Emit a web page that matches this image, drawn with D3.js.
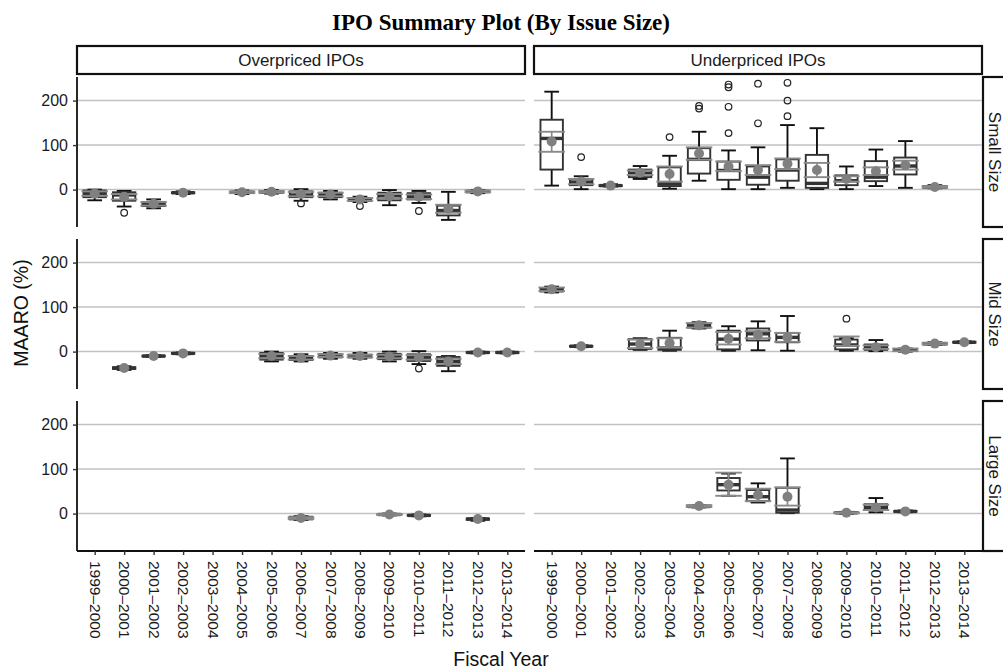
<!DOCTYPE html>
<html>
<head>
<meta charset="utf-8">
<script src="https://cdn.jsdelivr.net/npm/d3@7"></script>
<style>
  html, body { margin: 0; padding: 0; background: #fff; }
  svg { display: block; }
</style>
</head>
<body>
<svg id="chart" width="1003" height="670"></svg>
<script>
// Fiscal-year categories, facet labels and y ticks
const fiscalYears = ["1999–2000","2000–2001","2001–2002","2002–2003","2003–2004",
  "2004–2005","2005–2006","2006–2007","2007–2008","2008–2009","2009–2010",
  "2010–2011","2011–2012","2012–2013","2013–2014"];
const pricingGroups = ["Overpriced IPOs", "Underpriced IPOs"];
const sizeGroups = ["Small Size", "Mid Size", "Large Size"];
const yTicks = [0, 100, 200];

// Per fiscal year: [lowerWhisker, q1, median, q3, upperWhisker, mean, meanLo, meanHi, outliers]
// (meanLo / meanHi are null where the interval is undefined)
const overSmall = [
  [-24,-17,-9,-2,0,-9,-14,-4,[]],
  [-38,-25,-12,-6,-3,-16,-22,-10,[-52]],
  [-42,-37,-32,-28,-22,-32,-36,-28,[]],
  [-10,-8,-7,-6,-4,-7,null,null,[]],
  null,
  [-10,-7,-6,-5,-2,-6,-8,-4,[]],
  [-9,-7,-5,-4,-1,-5,-7,-3,[]],
  [-25,-17,-12,-4,1,-10,-15,-5,[-31]],
  [-22,-17,-12,-7,-3,-11,-15,-7,[]],
  [-28,-25,-22,-19,-16,-22,-25,-19,[-37]],
  [-35,-24,-14,-7,-1,-15,-20,-10,[]],
  [-30,-22,-15,-8,-3,-16,-21,-11,[-48]],
  [-68,-58,-47,-36,-5,-43,-52,-34,[]],
  [-8,-6,-4,-3,-1,-4,-6,-2,[]],
  null
];
const underSmall = [
  [9,45,115,157,220,108,85,130,[]],
  [1,10,17,24,30,18,12,24,[73]],
  [7,8,9,10,12,9,null,null,[]],
  [24,28,37,45,53,38,33,43,[]],
  [2,8,13,50,76,35,18,52,[118]],
  [20,36,68,93,130,81,67,95,[182,188]],
  [1,22,43,63,88,52,42,63,[127,186,230,236]],
  [1,11,28,52,95,44,33,55,[149,238]],
  [4,20,44,68,145,58,46,70,[165,200,240]],
  [1,4,14,78,138,44,28,60,[]],
  [1,10,20,32,52,24,18,30,[]],
  [8,19,28,64,90,41,33,50,[]],
  [4,34,53,72,109,55,45,65,[]],
  [3,4,6,8,10,6,4,8,[]],
  null
];
const overMid = [
  null,
  [-41,-39,-37,-35,-33,-37,null,null,[]],
  [-12,-11,-10,-9,-8,-10,null,null,[]],
  [-6,-5,-4,-3,-2,-4,null,null,[]],
  null,
  null,
  [-22,-18,-10,-3,0,-10,-15,-5,[]],
  [-22,-19,-14,-10,-6,-14,-18,-10,[]],
  [-16,-13,-10,-6,-3,-9,-12,-6,[]],
  [-16,-13,-10,-7,-3,-10,-13,-7,[]],
  [-22,-17,-11,-5,0,-11,-15,-7,[]],
  [-28,-21,-13,-6,1,-13,-18,-8,[-38]],
  [-44,-32,-22,-12,-10,-22,-28,-16,[]],
  [-4,-3,-2,-1,0,-2,null,null,[]],
  [-4,-3,-2,-1,0,-2,null,null,[]]
];
const underMid = [
  [133,135,139,143,146,140,136,144,[]],
  [10,11,12,13,14,12,null,null,[]],
  null,
  [4,6,17,28,30,17,8,27,[]],
  [2,4,8,31,47,19,9,30,[]],
  [52,54,58,63,66,59,54,64,[]],
  [2,5,28,47,57,29,16,44,[]],
  [3,25,40,52,68,38,30,46,[]],
  [2,21,32,42,80,32,22,42,[]],
  null,
  [2,5,15,27,30,23,13,34,[74]],
  [1,4,9,16,26,10,6,14,[]],
  [0,2,4,5,7,4,1,7,[]],
  [15,16,18,19,21,18,16,20,[]],
  [19,20,21,22,23,21,null,null,[]]
];
const overLarge = [
  null, null, null, null, null, null, null,
  [-14,-13,-10,-7,-6,-10,-12,-8,[]],
  null, null,
  [-4,-3,-2,-1,0,-2,-3,-1,[]],
  [-6,-5,-4,-3,-2,-4,null,null,[]],
  null,
  [-16,-14,-12,-11,-10,-12,null,null,[]],
  null
];
const underLarge = [
  null, null, null, null, null,
  [14,15,16,18,19,17,15,19,[]],
  [40,52,65,80,90,65,40,92,[]],
  [25,28,38,53,68,42,28,56,[]],
  [1,2,8,58,124,38,18,59,[]],
  null,
  [0,1,2,3,4,2,1,3,[]],
  [3,8,14,21,35,14,8,20,[]],
  [3,4,5,6,7,5,null,null,[]],
  null,
  null
];

const panelData = [
  [overSmall, underSmall],
  [overMid, underMid],
  [overLarge, underLarge]
];

// ---- layout ----
const svg = d3.select("#chart");
const colX = [[77, 525], [534, 982]];
const rowY = [[77, 227], [239, 389], [401, 551]];
const FONT = "'Liberation Sans', Arial, Helvetica, sans-serif";

const xScales = colX.map(r => d3.scalePoint().domain(fiscalYears).range(r).padding(0.6));
const yScales = rowY.map(r => d3.scaleLinear().domain([-84, 253]).range([r[1], r[0]]));
const step = xScales[0].step();

// title
svg.append("text")
  .attr("x", 501).attr("y", 30)
  .attr("text-anchor", "middle")
  .style("font-family", "'Liberation Serif', 'Times New Roman', serif")
  .style("font-weight", "bold")
  .style("font-size", "23px")
  .text("IPO Summary Plot (By Issue Size)");

// column strips
pricingGroups.forEach((lab, c) => {
  svg.append("rect")
    .attr("x", colX[c][0]).attr("y", 46)
    .attr("width", colX[c][1] - colX[c][0]).attr("height", 28)
    .attr("fill", "#fff").attr("stroke", "#111").attr("stroke-width", 2.2);
  svg.append("text")
    .attr("x", (colX[c][0] + colX[c][1]) / 2).attr("y", 60)
    .attr("dy", "0.35em").attr("text-anchor", "middle")
    .style("font-family", FONT).style("font-size", "17px").style("fill", "#1a1a1a")
    .text(lab);
});

// row strips
sizeGroups.forEach((lab, r) => {
  svg.append("rect")
    .attr("x", 983).attr("y", rowY[r][0])
    .attr("width", 28).attr("height", rowY[r][1] - rowY[r][0])
    .attr("fill", "#fff").attr("stroke", "#111").attr("stroke-width", 2.2);
  const cy = (rowY[r][0] + rowY[r][1]) / 2;
  svg.append("text")
    .attr("transform", `translate(995,${cy}) rotate(90)`)
    .attr("dy", "0.35em").attr("text-anchor", "middle")
    .style("font-family", FONT).style("font-size", "17px").style("fill", "#1a1a1a")
    .text(lab);
});

// panels
sizeGroups.forEach((_, r) => {
  pricingGroups.forEach((_, c) => {
    const x = xScales[c], y = yScales[r];
    const g = svg.append("g");

    // horizontal grid
    g.selectAll("line.grid").data(yTicks).join("line")
      .attr("x1", colX[c][0]).attr("x2", colX[c][1])
      .attr("y1", d => y(d)).attr("y2", d => y(d))
      .attr("stroke", "#c2c2c2").attr("stroke-width", 1.5);

    const rows = panelData[r][c]
      .map((s, i) => s ? { year: fiscalYears[i], s } : null)
      .filter(d => d);

    const boxW = step * 0.76, capW = step * 0.5, ciW = step * 0.9;

    rows.forEach(({ year, s }) => {
      const cx = x(year);
      const [lw, q1, med, q3, uw, mean, lo, hi, out] = s;
      const b = g.append("g");
      // whiskers with caps
      b.append("line").attr("x1", cx).attr("x2", cx).attr("y1", y(lw)).attr("y2", y(uw))
        .attr("stroke", "#111").attr("stroke-width", 1.9);
      [lw, uw].forEach(v => b.append("line")
        .attr("x1", cx - capW / 2).attr("x2", cx + capW / 2)
        .attr("y1", y(v)).attr("y2", y(v))
        .attr("stroke", "#111").attr("stroke-width", 1.9));
      // box
      b.append("rect")
        .attr("x", cx - boxW / 2).attr("width", boxW)
        .attr("y", y(q3)).attr("height", Math.max(0, y(q1) - y(q3)))
        .attr("fill", "#fff").attr("stroke", "#333").attr("stroke-width", 1.9);
      b.append("line")
        .attr("x1", cx - boxW / 2).attr("x2", cx + boxW / 2)
        .attr("y1", y(med)).attr("y2", y(med))
        .attr("stroke", "#333").attr("stroke-width", 3.4);
      // outliers
      out.forEach(v => b.append("circle")
        .attr("cx", cx).attr("cy", y(v)).attr("r", 3.3)
        .attr("fill", "none").attr("stroke", "#222").attr("stroke-width", 1.2));
      // interval around the mean
      if (lo !== null && hi !== null) {
        b.append("line").attr("x1", cx).attr("x2", cx).attr("y1", y(lo)).attr("y2", y(hi))
          .attr("stroke", "#8a8a8a").attr("stroke-width", 1.7);
        [lo, hi].forEach(v => b.append("line")
          .attr("x1", cx - ciW / 2).attr("x2", cx + ciW / 2)
          .attr("y1", y(v)).attr("y2", y(v))
          .attr("stroke", "#8a8a8a").attr("stroke-width", 1.9));
      }
      // mean
      b.append("circle").attr("cx", cx).attr("cy", y(mean)).attr("r", 5)
        .attr("fill", "#808080");
    });

    // left axis for the first column
    if (c === 0) {
      const ax = svg.append("g").attr("transform", `translate(${colX[0][0]},0)`)
        .call(d3.axisLeft(y).tickValues(yTicks).tickSize(4).tickSizeOuter(0));
      ax.select(".domain").attr("stroke", "#111").attr("stroke-width", 1.8)
        .attr("d", `M0,${rowY[r][0]}V${rowY[r][1]}`);
      ax.selectAll(".tick line").attr("stroke", "#333").attr("stroke-width", 1.4);
      ax.selectAll(".tick text").attr("x", -9)
        .style("font-family", FONT).style("font-size", "16px").style("fill", "#1a1a1a");
    }
    // bottom axis for the last row
    if (r === 2) {
      const ax = svg.append("g").attr("transform", `translate(0,${rowY[2][1]})`)
        .call(d3.axisBottom(x).tickSize(4).tickSizeOuter(0));
      ax.select(".domain").attr("stroke", "#111").attr("stroke-width", 1.8)
        .attr("d", `M${colX[c][0]},0H${colX[c][1]}`);
      ax.selectAll(".tick line").attr("stroke", "#333").attr("stroke-width", 1.4);
      ax.selectAll(".tick text")
        .attr("transform", "rotate(90)")
        .attr("x", 10).attr("y", 0).attr("dy", "0.35em")
        .style("text-anchor", "start")
        .style("font-family", FONT).style("font-size", "15.5px").style("fill", "#1a1a1a");
    }
  });
});

// axis titles
svg.append("text")
  .attr("transform", "translate(21,313) rotate(-90)")
  .attr("text-anchor", "middle").attr("dy", "0.35em")
  .style("font-family", FONT).style("font-size", "19.5px").style("fill", "#111")
  .text("MAARO (%)");
svg.append("text")
  .attr("x", 501).attr("y", 659).attr("dy", "0.35em")
  .attr("text-anchor", "middle")
  .style("font-family", FONT).style("font-size", "19.5px").style("fill", "#111")
  .text("Fiscal Year");
</script>
</body>
</html>
